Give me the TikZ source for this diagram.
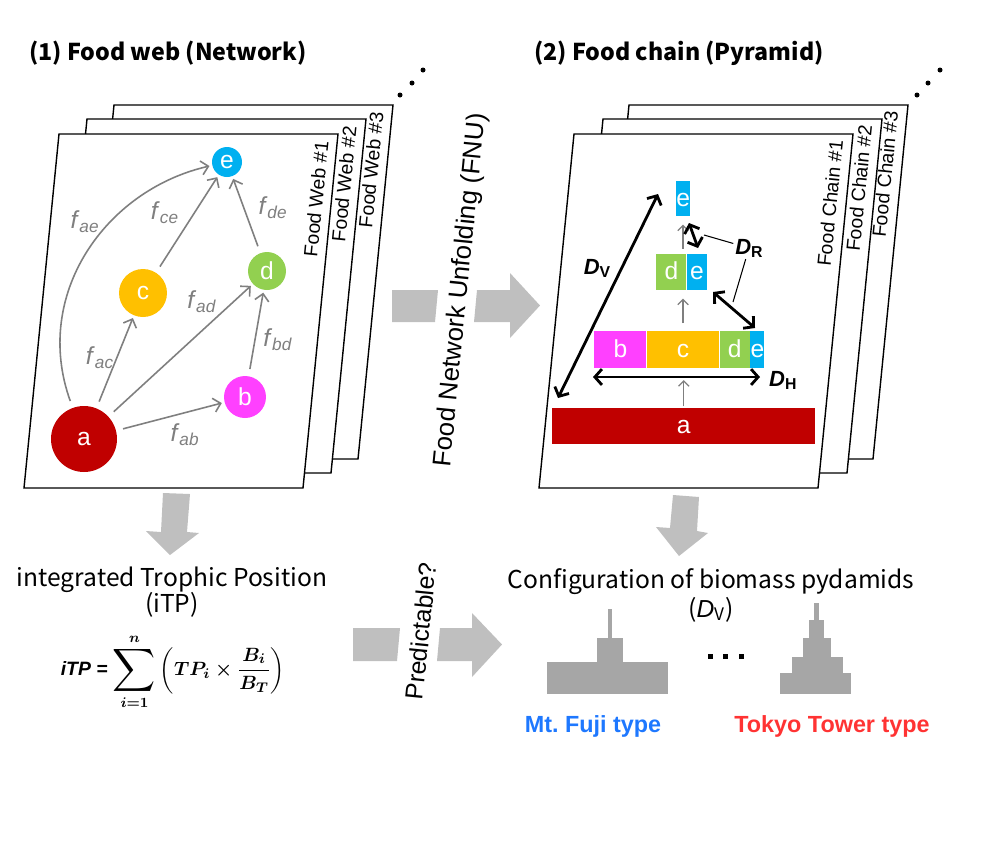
\documentclass[tikz,border=0pt]{standalone}
\usepackage{fontspec}
\setmainfont{Liberation Sans}
\newfontfamily\jpfont{Noto Sans CJK JP}
\usepackage{amsmath,amssymb}
\usetikzlibrary{positioning,arrows.meta,calc}

\definecolor{spA}{HTML}{C00000}
\definecolor{spB}{HTML}{FF40FF}
\definecolor{spC}{HTML}{FFC000}
\definecolor{spD}{HTML}{92D050}
\definecolor{spE}{HTML}{00B0F0}
\definecolor{fluxgray}{HTML}{7F7F7F}
\definecolor{flow}{HTML}{BFBFBF}
\definecolor{mass}{HTML}{A6A6A6}
\definecolor{fujiblue}{HTML}{1E78FF}
\definecolor{towerred}{HTML}{FF3333}

\newcommand\fsub[1]{\textit{f}\textsubscript{\textit{#1}}}
\newcommand\dsub[1]{\textbf{\textit{D}}\raisebox{-0.25ex}{\fontsize{9}{9}\selectfont\bfseries #1}}
\newcommand\bigsum{\mathop{\vcenter{\hbox{\scalebox{1.55}{$\displaystyle\sum$}}}}\limits}

\begin{document}
\begin{tikzpicture}[x=0.02cm,y=-0.02cm,
	sheet/.style={draw,fill=white,line width=0.8pt},
	sheetlab/.style={rotate=84.3,font=\fontsize{11}{11}\selectfont},
	species/.style={circle,fill=#1,text=white,inner sep=0pt,font=\fontsize{14}{14}\selectfont},
	block/.style={rectangle,fill=#1,text=white,inner sep=0pt,minimum height=0.74cm,text height=1.6ex,text depth=0pt,font=\fontsize{14}{14}\selectfont},
	flux/.style={draw=fluxgray,line width=0.9pt,shorten <=4pt,shorten >=1.5pt,-{Straight Barb[length=4pt,width=8pt]}},
	flab/.style={text=fluxgray,font=\fontsize{14}{14}\selectfont},
	lift/.style={draw=fluxgray,line width=0.7pt,shorten <=3pt,shorten >=4.5pt,-{Straight Barb[length=3pt,width=6pt]}},
	dim/.style={line width=1.6pt,{Straight Barb[length=4pt,width=9pt]}-{Straight Barb[length=4pt,width=9pt]}},
	leader/.style={line width=0.6pt},
	dlab/.style={inner sep=1pt,font=\fontsize{12.5}{12.5}\selectfont},
	heading/.style={font=\jpfont\bfseries\fontsize{13.2}{13.2}\selectfont},
	subhead/.style={font=\jpfont\fontsize{14}{14}\selectfont},
	vlab/.style={rotate=84.3,inner sep=1pt}
]
\useasboundingbox (0,0) rectangle (1000,850);

% (1) food web
\node[heading,anchor=west] (t1) at (23,53) {(1) Food web (Network)};
\foreach \n/\dx/\dy in {3/55/-29, 2/28/-15, 1/0/0} {
	\draw[sheet] ($(59,134)+(\dx,\dy)$) coordinate (w\n) -- ++(279,0) -- ++(-35,354) -- ++(-279,0) -- cycle;
	\node[sheetlab] at ($(w\n)+(257,65)$) {Food Web \#\n};
}
\foreach \x/\y in {400/95, 412/83, 423/70} \fill (\x,\y) circle (2.5);

\node[species=spE,minimum size=0.6cm] (e) at (227,162) {e};
\node[species=spD,minimum size=0.76cm] (d) at (267,271) {d};
\node[species=spC,minimum size=0.96cm] (c) at (143,293) {c};
\node[species=spB,minimum size=0.84cm] (b) at (245,397) {b};
\node[species=spA,minimum size=1.32cm] (a) at (84,439) {a};

\draw[flux] (a) .. controls (32,295) and (105,190) .. (e);
\draw[flux] (a) -- (c);
\draw[flux] (a) -- (d);
\draw[flux] (a) -- (b);
\draw[flux] (c) -- (e);
\draw[flux] (d) -- (e);
\draw[flux] (b) -- (d);

\node[flab] (fae) at (85,222) {\fsub{ae}};
\node[flab] (fce) at (165,213) {\fsub{ce}};
\node[flab] (fde) at (273,208) {\fsub{de}};
\node[flab] (fad) at (202,302) {\fsub{ad}};
\node[flab] (fac) at (100,358) {\fsub{ac}};
\node[flab] (fbd) at (278,340) {\fsub{bd}};
\node[flab] (fab) at (185,435) {\fsub{ab}};

% unfolding
\fill[flow] (392,290) -- (438,290) -- (435,322) -- (392,322) -- cycle;
\fill[flow] (477,290) -- (510,290) -- (510,273) -- (540,305.5) -- (510,338) -- (510,322) -- (474,322) -- cycle;
\node[vlab,font=\fontsize{14.7}{14.7}\selectfont] (fnu) at (461,290) {Food Network Unfolding (FNU)};

% (2) food chain
\node[heading,anchor=west] (t2) at (528,53) {(2) Food chain (Pyramid)};
\foreach \n/\dx/\dy in {3/55/-29, 2/29/-15, 1/0/0} {
	\draw[sheet] ($(574,134)+(\dx,\dy)$) coordinate (k\n) -- ++(279,0) -- ++(-35,354) -- ++(-279,0) -- cycle;
	\node[sheetlab] at ($(k\n)+(256,69)$) {Food Chain \#\n};
}
\foreach \x/\y in {917/95, 928/83, 940/70} \fill (\x,\y) circle (2.5);

\node[block=spA,minimum width=5.26cm,minimum height=0.72cm,anchor=north west] (pa) at (552,408) {a};
\node[block=spB,minimum width=1.04cm,anchor=north west] (pb) at (594,331) {b};
\node[block=spC,minimum width=1.44cm,right=0pt of pb] (pc) {c};
\node[block=spD,minimum width=0.6cm,right=0pt of pc] (pd) {d};
\node[block=spE,minimum width=0.28cm,right=0pt of pd] (pe) {e};
\node[block=spD,minimum width=0.6cm,minimum height=0.72cm,anchor=north west] (qd) at (656,254) {d};
\node[block=spE,minimum width=0.4cm,minimum height=0.72cm,right=0pt of qd] (qe) {e};
\node[block=spE,minimum width=0.26cm,minimum height=0.7cm,anchor=north west] (re) at (676,181) {e};

\draw[lift,shorten <=1pt,shorten >=6.5pt] (pa.north) -- (pa.north |- pc.south);
\draw[lift,shorten <=4.5pt] (pc.north) -- (pc.north |- qd.south);
\draw[lift] (pc.north |- qd.north) -- (pc.north |- re.south);

\coordinate (hl) at (593,377);
\coordinate (hr) at (760,377);
\coordinate (vb) at (558,398);
\coordinate (vt) at (658,194);
\coordinate (ra) at (689,223);
\coordinate (rb) at (698,248);
\coordinate (rc) at (713,292);
\coordinate (rd) at (755,328);
\draw[dim] (hl) -- (hr);
\draw[dim] (vb) -- (vt);
\draw[dim] (ra) -- (rb);
\draw[dim] (rc) -- (rd);

\node[dlab,right=4pt of hr,yshift=-2pt] (lh) {\dsub{H}};
\node[dlab] (lv) at (597,268) {\dsub{V}};
\node[dlab] (lr) at (749,248) {\dsub{R}};
\coordinate (r1) at (704,235);
\coordinate (r2) at (733,302);
\draw[leader] (r1) -- (lr);
\draw[leader] (r2) -- (lr);

% bottom left
\fill[flow] (163,493) -- (190,494) -- (187,532) -- (199,533) -- (170,555) -- (146,531) -- (161,532) -- cycle;
\node[subhead] (itpt) at (172,580) {integrated Trophic Position};
\node[subhead,below=-7.5pt of itpt] (itpa) {(iTP)};
\node[font=\fontsize{11}{11}\selectfont,inner sep=1pt] (itp) at (173,672) {\textbf{\textit{iTP =}} {\boldmath$\displaystyle\bigsum_{i=1}^{n}\left(TP_i\times\frac{B_i}{B_T}\right)$}};

\fill[flow] (353,628) -- (400,628) -- (397,661) -- (353,661) -- cycle;
\fill[flow] (440,628) -- (472,628) -- (472,613) -- (502,644.5) -- (472,677) -- (472,661) -- (437,661) -- cycle;
\node[vlab,font=\fontsize{14.1}{14.1}\selectfont] (pred) at (421,631) {Predictable?};

% bottom right
\fill[flow] (673,495) -- (699,497) -- (697,531) -- (708,533) -- (679,556) -- (656,527) -- (670,528) -- cycle;
\node[subhead] (conf) at (711,582) {Configuration of biomass pydamids};
\node[subhead,below=-6pt of conf] (confv) {({\rmfamily\itshape D}\textsubscript{V})};

\foreach \xa/\ya/\xb/\yb in {547/662/668/694, 597/638/623/662, 608/609/612/638}
	\fill[mass] (\xa,\ya) rectangle (\xb,\yb);
\foreach \xa/\ya/\xb/\yb in {780/673/851/694, 792/657/843/673, 803/638/831/657, 809/620/824/638, 814/603/819/620}
	\fill[mass] (\xa,\ya) rectangle (\xb,\yb);
\foreach \x in {710,725,741} \fill (\x-2.5,653.5) rectangle ++(5,5);

\node[text=fujiblue,font=\bfseries\fontsize{13.3}{13.3}\selectfont] (fuji) at (593,726) {Mt.\ Fuji type};
\node[text=towerred,font=\bfseries\fontsize{13.3}{13.3}\selectfont] (tower) at (832,726) {Tokyo Tower type};
\end{tikzpicture}
\end{document}
